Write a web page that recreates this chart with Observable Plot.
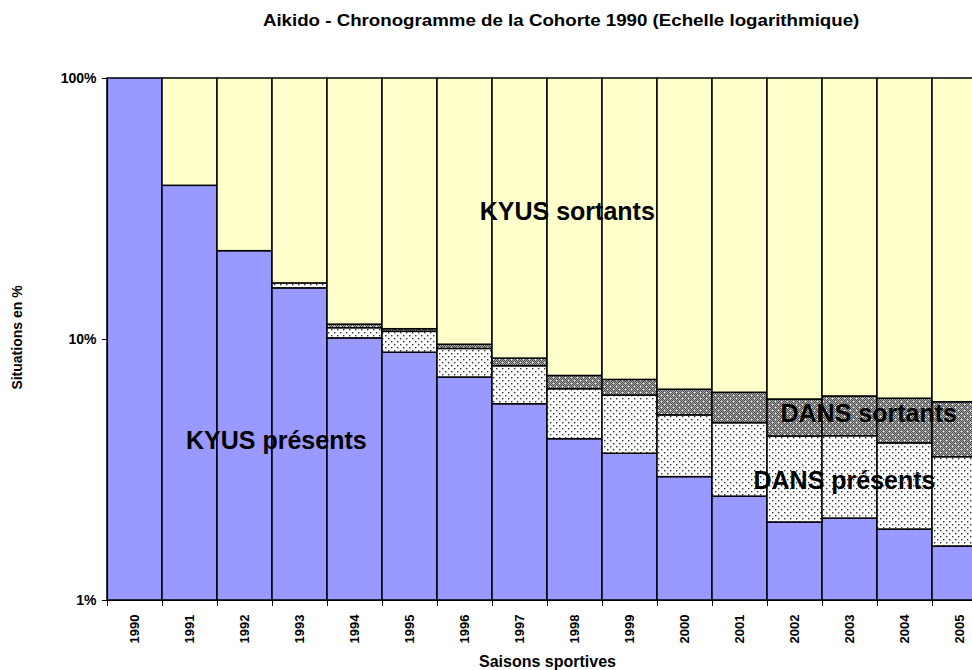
<!DOCTYPE html>
<html>
<head>
<meta charset="utf-8">
<script src="https://cdn.jsdelivr.net/npm/d3@7"></script>
<script src="https://cdn.jsdelivr.net/npm/@observablehq/plot@0.6"></script>
<style>
  html, body { margin: 0; padding: 0; background: #fff; overflow: hidden; width: 972px; height: 670px; }
  body { font-family: "Liberation Sans", Arial, sans-serif; }
  #wrap { position: relative; width: 972px; height: 670px; overflow: hidden; }
  #title { box-sizing: border-box; width: 972px; height: 40px; line-height: 42px; padding-left: 150px; text-align: center; font-weight: bold; font-size: 17px; color: #000; white-space: nowrap; }
  #title span { display: inline-block; transform: scaleX(1.1); }
  #chart svg { display: block; }
</style>
</head>
<body>
<div id="wrap">
<div id="title"><span>Aikido - Chronogramme de la Cohorte 1990 (Echelle logarithmique)</span></div>
<div id="chart"></div>
</div>
<script>
// ---- data (percentages) ----
const years = [1990, 1991, 1992, 1993, 1994, 1995, 1996, 1997, 1998, 1999, 2000, 2001, 2002, 2003, 2004, 2005];
const kyusPresents = [100, 38.8, 21.8, 15.7, 10.1, 8.9, 7.15, 5.65, 4.15, 3.65, 2.97, 2.5, 1.99, 2.06, 1.87, 1.61];
const dansPresents = [0, 0, 0, 0.7, 0.95, 1.8, 2.05, 2.25, 2.3, 2.45, 2.15, 2.28, 2.26, 2.2, 2.13, 1.93];
const dansSortants = [0, 0, 0, 0, 0.35, 0.25, 0.35, 0.55, 0.8, 0.9, 1.3, 1.47, 1.64, 1.79, 1.93, 2.21];
const kyusSortants = [0, 61.2, 78.2, 83.6, 88.6, 89.05, 90.45, 91.55, 92.75, 93.0, 93.58, 93.75, 94.11, 93.95, 94.07, 94.25];
const yTicks = [1, 10, 100];
const labelTexts = ["KYUS sortants", "KYUS présents", "DANS sortants", "DANS présents"];
const labelYears = [1997.86, 1992.57, 2003.34, 2002.9];
const labelValues = [30.7, 4.1, 5.16, 2.86];

// ---- build stacked segments (log scale: floor at 1%) ----
const series = [
  {key: "kp", values: kyusPresents},
  {key: "dp", values: dansPresents},
  {key: "ds", values: dansSortants},
  {key: "ks", values: kyusSortants}
];
const segs = {kp: [], dp: [], ds: [], ks: []};
years.forEach((yr, i) => {
  let cum = 0;
  for (const s of series) {
    const v = s.values[i];
    const lo = cum;
    cum += v;
    if (v > 0) segs[s.key].push({year: yr, y1: Math.max(lo, 1), y2: Math.min(cum, 100)});
  }
});
const labels = labelTexts.map((t, i) => ({text: t, year: labelYears[i], value: labelValues[i]}));
const boundaries = years.map(y => y - 0.5).concat([years[years.length - 1] + 0.5]);

const rectOpts = (fill) => ({
  x1: d => d.year - 0.5, x2: d => d.year + 0.5, y1: "y1", y2: "y2",
  fill, stroke: "#000", strokeWidth: 1.5
});

const plot = Plot.plot({
  width: 972,
  height: 630,
  marginTop: 38,
  marginLeft: 107,
  marginRight: -15,
  marginBottom: 70,
  style: {fontFamily: '"Liberation Sans", Arial, sans-serif', fontWeight: "bold", fontSize: "12px", color: "#000", background: "#fff", overflow: "hidden"},
  x: {type: "linear", domain: [1989.5, 2005.5], label: null},
  y: {type: "log", domain: [1, 100], label: null},
  marks: [
    Plot.rect(segs.kp, rectOpts("#9999FF")),
    Plot.rect(segs.dp, rectOpts("url(#patDP)")),
    Plot.rect(segs.ds, rectOpts("url(#patDS)")),
    Plot.rect(segs.ks, rectOpts("#FFFFCC")),
    Plot.ruleY([1], {stroke: "#000", strokeWidth: 1.2}),
    Plot.ruleX([1989.5], {stroke: "#000", strokeWidth: 1.2}),
    Plot.axisY({ticks: yTicks, tickFormat: d => d + "%", tickSize: 5, tickPadding: 6, fontSize: 14, label: null}),
    Plot.axisX({ticks: boundaries, tickSize: 6, tickFormat: () => "", label: null}),
    Plot.axisX({ticks: years, tickSize: 0, tickPadding: 14, tickRotate: -90, tickFormat: d => String(d), fontSize: 13, label: null}),
    Plot.text(labels, {x: "year", y: "value", text: "text", fontSize: 25, fontWeight: "bold", fill: "#000", textAnchor: "middle", lineAnchor: "middle"}),
    Plot.text(["Saisons sportives"], {frameAnchor: "bottom", dy: 61, fontSize: 16, fontWeight: "bold", fill: "#000", textAnchor: "middle", lineAnchor: "middle"}),
    Plot.text(["Situations en %"], {frameAnchor: "left", dx: -90, dy: -2, rotate: -90, fontSize: 14, fontWeight: "bold", fill: "#000", textAnchor: "middle"})
  ]
});

// patterns for DANS segments
let dsPix = "";
for (let x = 0; x < 6; x++) for (let y = 0; y < 6; y++) {
  if ((x + y) % 2 === 0) dsPix += `<rect x="${x}" y="${y}" width="1" height="1" fill="#4a4a4a"/>`;
}
const defs = `
<pattern id="patDP" width="6" height="6" patternUnits="userSpaceOnUse">
  <rect width="6" height="6" fill="#ffffff"/>
  <rect x="1" y="1" width="1.4" height="1.4" fill="#333"/>
  <rect x="4" y="4" width="1.4" height="1.4" fill="#333"/>
</pattern>
<pattern id="patDS" width="6" height="6" patternUnits="userSpaceOnUse">
  <rect width="6" height="6" fill="#a8a8a8"/>
  ${dsPix}
  <rect x="1" y="1" width="1.2" height="1.2" fill="#ffffff"/>
  <rect x="4" y="4" width="1.2" height="1.2" fill="#ffffff"/>
</pattern>`;
d3.select(plot).insert("defs", ":first-child").html(defs);

document.getElementById("chart").appendChild(plot);
</script>
</body>
</html>
